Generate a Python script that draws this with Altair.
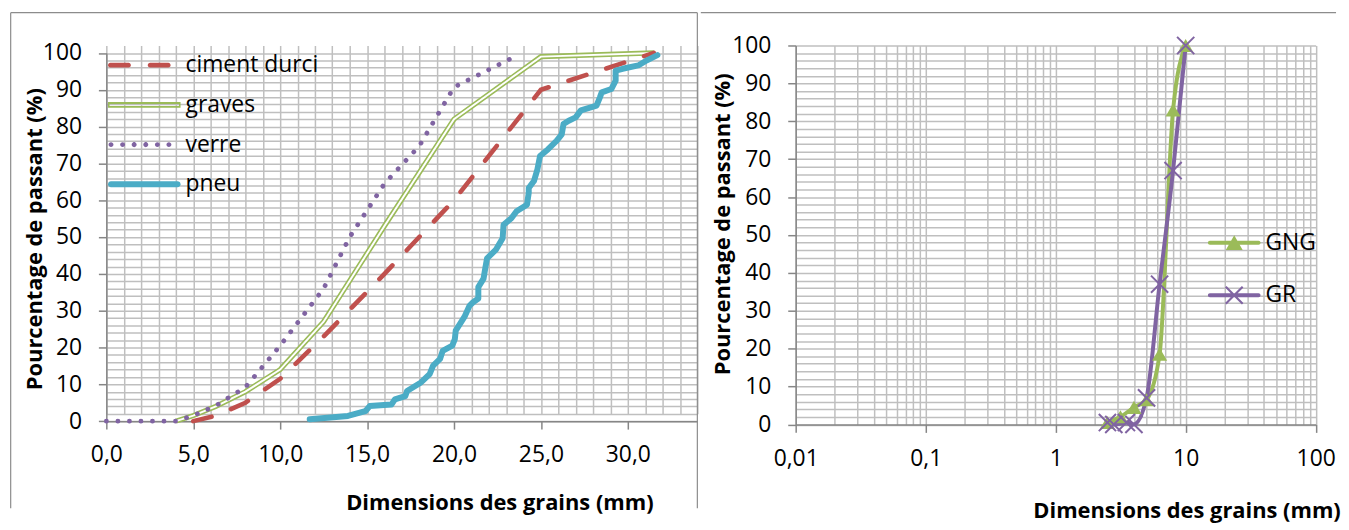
import altair as alt
import pandas as pd

FONT = "Open Sans"

# ---------------- left panel data (linear x) ----------------
left_series = ["ciment durci", "graves", "verre", "pneu"]
left_colors = ["#C0504D", "#9BBB59", "#8064A2", "#4BACC6"]

ciment_x = [5, 6.3, 8, 10, 12.5, 16, 20, 25, 31.5]
ciment_y = [0, 1.5, 5, 11.5, 23, 40, 60, 90, 100]

graves_x = [4, 5, 6.3, 8, 10, 12.5, 16, 20, 25, 31.5]
graves_y = [0, 1.5, 4, 8, 14, 27, 53, 82, 99, 100]

verre_x = [0, 4, 5, 6.3, 8, 10, 12.5, 14, 16, 18, 20, 23.5]
verre_y = [0, 0, 1.5, 4.2, 9.2, 20.5, 36, 50, 64.5, 74.7, 90.7, 99]

pneu_x = [11.7, 13.9, 14.9, 15.15, 16.4, 16.6, 17.2, 17.3, 18.1, 18.6, 18.8, 19.2,
          19.35, 19.9, 20.05, 20.1, 20.6, 20.9, 21.1, 21.4, 21.4, 21.7, 21.8, 21.9,
          22.4, 22.8, 22.85, 23.3, 23.6, 24.2, 24.3, 24.3, 24.6, 24.8, 24.95, 25.4,
          25.9, 26.2, 26.3, 26.6, 27.0, 27.3, 28.2, 28.4, 28.5, 29.05, 29.3, 29.3,
          29.7, 30.6, 31.1, 31.7]
pneu_y = [0.5, 1.4, 2.7, 4.1, 4.5, 5.9, 6.8, 8.2, 10.5, 12.8, 15.1, 16.9,
          19.1, 20.5, 22.3, 24.6, 28.3, 31.4, 32.3, 33.3, 36.4, 38.7, 41.5, 44.2,
          46.5, 49.7, 53.3, 55.1, 57.0, 58.8, 62.0, 63.3, 65.2, 68.4, 72.0, 73.8,
          76.1, 77.9, 80.7, 81.6, 82.5, 84.4, 85.7, 88.0, 89.3, 90.2, 92.5, 95.2,
          95.7, 96.6, 98.0, 99.4]

left_x_ticks = list(range(0, 35))
y_ticks = list(range(0, 101, 2))

# ---------------- right panel data (log x) ----------------
right_series = ["GNG", "GR"]
right_colors = ["#9BBB59", "#8064A2"]

gng_x = [2.5, 3.15, 4, 5, 6.3, 8, 10]
gng_y = [0.5, 2, 4.5, 6.5, 18.5, 83, 100]

gr_x = [2.5, 2.8, 3.5, 4, 5, 6.3, 8, 10]
gr_y = [0.5, 0, 0.5, 0, 7, 37, 67, 100]

log_ticks = [round(d * k, 4) for d in (0.01, 0.1, 1, 10) for k in range(1, 10)] + [100]


def df(xs, ys):
    return pd.DataFrame({"x": xs, "y": ys, "i": list(range(len(xs)))})


# ---------------- legend symbol paths ----------------
def fmt(v):
    s = f"{v:.4f}".rstrip("0").rstrip(".")
    return "0" if s in ("-0", "") else s


def capsule(x1, x2, h, u, c=0.0):
    X1, X2 = (x1 + h - c) / u, (x2 - h - c) / u
    H = h / u
    return (f"M{fmt(X1)},{fmt(-H)}L{fmt(X2)},{fmt(-H)}"
            f"A{fmt(H)},{fmt(H)} 0 0 1 {fmt(X2)},{fmt(H)}"
            f"L{fmt(X1)},{fmt(H)}"
            f"A{fmt(H)},{fmt(H)} 0 0 1 {fmt(X1)},{fmt(-H)}Z")


def poly(pts, u, positive=True, c=0.0):
    area = sum(pts[i][0] * pts[(i + 1) % len(pts)][1] - pts[(i + 1) % len(pts)][0] * pts[i][1]
               for i in range(len(pts)))
    if (area > 0) != positive:
        pts = pts[::-1]
    return "M" + "L".join(f"{fmt((x - c) / u)},{fmt(y / u)}" for x, y in pts) + "Z"


def circle(cx, r, u, c=0.0):
    a, b, R = (cx - r - c) / u, (cx + r - c) / u, r / u
    return (f"M{fmt(a)},0A{fmt(R)},{fmt(R)} 0 1 1 {fmt(b)},0"
            f"A{fmt(R)},{fmt(R)} 0 1 1 {fmt(a)},0Z")


# left legend: nominal symbol 23 px (= label size) so rows stay compact;
# the drawn symbol spans 0..73 px from the entry's left edge
LS = 23
LU, LC = LS / 2, LS / 2
left_paths = [
    capsule(0, 23, 2.3, LU, LC) + capsule(40, 63, 2.3, LU, LC),
    poly([(0, -2.8), (73, -2.8), (73, 2.8), (0, 2.8)], LU, True, LC)
    + poly([(1.5, -1.0), (71.5, -1.0), (71.5, 1.0), (1.5, 1.0)], LU, False, LC),
    "".join(circle(c, 2.5, LU, LC) for c in (3, 14.7, 26.3, 38, 49.7, 61.3)),
    capsule(0, 73, 3.0, LU, LC),
]

RU = 26.5
d = 0.75
right_paths = [
    capsule(-26.5, 26.5, 2.0, RU) + poly([(-8.5, 7.5), (0, -7.5), (8.5, 7.5)], RU, True),
    capsule(-26.5, 26.5, 2.0, RU)
    + poly([(-8.5 + d, -8.5 - d), (8.5 + d, 8.5 - d), (8.5 - d, 8.5 + d), (-8.5 - d, -8.5 + d)], RU, True)
    + poly([(8.5 - d, -8.5 - d), (8.5 + d, -8.5 + d), (-8.5 + d, 8.5 + d), (-8.5 - d, 8.5 - d)], RU, True),
]

# ---------------- geometry ----------------
LW, LH, LTOP = 595, 378.2, 7.5
RW, RH = 523.5, 381.5
BORDER = "#8C8C8C"
LBL = 23
TTL = 22

tick_cond_left_x = {"condition": {"test": "datum.value % 5 == 0", "value": 1}, "value": 0}
tick_cond_y = {"condition": {"test": "datum.value % 10 == 0", "value": 1}, "value": 0}
dec_test = "datum.value == 0.01 || datum.value == 0.1 || datum.value == 1 || datum.value == 10 || datum.value == 100"
tick_cond_log = {"condition": {"test": dec_test, "value": 1}, "value": 0}

left_x_axis = alt.Axis(
    values=left_x_ticks,
    labelExpr="datum.value % 5 == 0 ? replace(format(datum.value, '.1f'), '.', ',') : ''",
    tickOpacity=tick_cond_left_x,
    title="Dimensions des grains (mm)",
    titleX=395.7, titleY=82, titleAlign="center", titleBaseline="middle",
)
left_y_axis = alt.Axis(
    values=y_ticks,
    labelExpr="datum.value % 10 == 0 ? datum.label : ''",
    tickOpacity=tick_cond_y,
    title="Pourcentage de passant (%)",
    titleX=-71.8, titleY=194.5, titleAngle=270, titleAlign="center", titleBaseline="middle",
)
right_x_axis = alt.Axis(
    values=log_ticks,
    labelExpr="datum.value == 0.01 ? '0,01' : datum.value == 0.1 ? '0,1' : (datum.value == 1 || datum.value == 10 || datum.value == 100) ? format(datum.value, 'd') : ''",
    tickOpacity=tick_cond_log,
    title="Dimensions des grains (mm)",
    titleX=393.5, titleY=87, titleAlign="center", titleBaseline="middle",
)
right_y_axis = alt.Axis(
    values=y_ticks,
    labelExpr="datum.value % 10 == 0 ? datum.label : ''",
    tickOpacity=tick_cond_y,
    title="Pourcentage de passant (%)",
    titleX=-73.7, titleY=179.5, titleAngle=270, titleAlign="center", titleBaseline="middle",
)

LX = alt.X("x:Q", scale=alt.Scale(domain=[0, 34], nice=False, zero=False), axis=left_x_axis)
LY = alt.Y("y:Q", scale=alt.Scale(domain=[0, 100], range=[LH, LTOP], nice=False), axis=left_y_axis)
RX = alt.X("x:Q", scale=alt.Scale(type="log", domain=[0.01, 100], nice=False), axis=right_x_axis)
RY = alt.Y("y:Q", scale=alt.Scale(domain=[0, 100], nice=False), axis=right_y_axis)
ORD = alt.Order("i:Q")

# ---------------- left chart ----------------
graves_outer = alt.Chart(df(graves_x, graves_y)).mark_line(
    color="#9BBB59", strokeWidth=5.2).encode(x=LX, y=LY, order=ORD)
graves_inner = alt.Chart(df(graves_x, graves_y)).mark_line(
    color="white", strokeWidth=2).encode(x=LX, y=LY, order=ORD)
ciment = alt.Chart(df(ciment_x, ciment_y)).mark_line(
    color="#C0504D", strokeWidth=4.6, strokeDash=[19, 21], strokeCap="round").encode(x=LX, y=LY, order=ORD)
verre = alt.Chart(df(verre_x, verre_y)).mark_line(
    color="#8064A2", strokeWidth=4.8, strokeDash=[0.1, 11.5], strokeCap="round").encode(x=LX, y=LY, order=ORD)
pneu = alt.Chart(df(pneu_x, pneu_y)).mark_line(
    color="#4BACC6", strokeWidth=6, strokeJoin="round", strokeCap="round").encode(x=LX, y=LY, order=ORD)

leg_left = alt.Legend(orient="none", legendX=1.7, legendY=8.3, padding=0, rowPadding=16,
                      labelOffset=55, symbolSize=LS * LS, symbolStrokeWidth=0, symbolOpacity=1,
                      labelFontSize=LBL, labelFont=FONT, labelColor="black")
left_legend = alt.Chart(pd.DataFrame({"serie": left_series})).transform_filter("false").mark_point(
    filled=True, opacity=1, size=LS * LS).encode(
    color=alt.Color("serie:N", scale=alt.Scale(domain=left_series, range=left_colors), legend=leg_left, title=None),
    shape=alt.Shape("serie:N", scale=alt.Scale(domain=left_series, range=left_paths), legend=leg_left, title=None),
)

deco = pd.DataFrame({"k": [0]})
l_top = alt.Chart(deco).mark_rule(color=BORDER, strokeWidth=1.2).encode(
    x=alt.value(-96.3), x2=alt.value(LW), y=alt.value(-33))
l_left = alt.Chart(deco).mark_rule(color=BORDER, strokeWidth=1.2).encode(
    x=alt.value(-96.3), y=alt.value(-33), y2=alt.value(466))
l_right = alt.Chart(deco).mark_rule(color=BORDER, strokeWidth=1.2).encode(
    x=alt.value(LW), y=alt.value(-33), y2=alt.value(466))

left = alt.layer(graves_outer, graves_inner, ciment, verre, pneu, left_legend,
                 l_top, l_left, l_right).properties(width=LW, height=LH)

# ---------------- right chart ----------------
gng_line = alt.Chart(df(gng_x, gng_y)).mark_line(
    color="#9BBB59", strokeWidth=4, interpolate="monotone").encode(x=RX, y=RY, order=ORD)
gr_line = alt.Chart(df(gr_x, gr_y)).mark_line(
    color="#8064A2", strokeWidth=4, interpolate="monotone").encode(x=RX, y=RY, order=ORD)
gng_pts = alt.Chart(df(gng_x, gng_y)).mark_point(
    shape="triangle-up", filled=True, size=230, color="#9BBB59", opacity=1).encode(x=RX, y=RY)
gr_pts = alt.Chart(df(gr_x, gr_y)).mark_point(
    shape="M-1,-1L1,1M-1,1L1,-1", filled=False, size=300, color="#8064A2",
    strokeWidth=2, opacity=1).encode(x=RX, y=RY)

leg_right = alt.Legend(orient="none", legendX=415, legendY=172, padding=0, rowPadding=14,
                       labelOffset=5, symbolSize=53 * 53, symbolStrokeWidth=0, symbolOpacity=1,
                       labelFontSize=LBL, labelFont=FONT, labelColor="black")
right_legend = alt.Chart(pd.DataFrame({"serie2": right_series})).transform_filter("false").mark_point(
    filled=True, opacity=1, size=53 * 53).encode(
    color=alt.Color("serie2:N", scale=alt.Scale(domain=right_series, range=right_colors), legend=leg_right, title=None),
    shape=alt.Shape("serie2:N", scale=alt.Scale(domain=right_series, range=right_paths), legend=leg_right, title=None),
)

r_top = alt.Chart(deco).mark_rule(color=BORDER, strokeWidth=1.2).encode(
    x=alt.value(-95.5), x2=alt.value(544), y=alt.value(-33))

right = alt.layer(gng_line, gr_line, gng_pts, gr_pts, right_legend, r_top).properties(width=RW, height=RH)

chart = alt.hconcat(left, right, spacing=0).resolve_scale(
    color="independent", shape="independent"
).properties(
    padding={"left": 1, "top": 1, "right": 0, "bottom": 0}
).configure(font=FONT).configure_axis(
    labelFont=FONT, labelFontSize=LBL, labelColor="black",
    titleFont=FONT, titleFontSize=TTL, titleFontWeight="bold", titleColor="black",
    gridColor="#BFBFBF", gridWidth=1.5,
    domainColor="#868686", domainWidth=1.5,
    tickColor="#868686", tickWidth=1.5, tickSize=8,
    labelFlush=False, labelOverlap=False,
).configure_axisX(labelPadding=15).configure_axisY(labelPadding=17).configure_view(stroke="transparent")

chart.save("out.html", embed_options={"renderer": "svg", "actions": False})
